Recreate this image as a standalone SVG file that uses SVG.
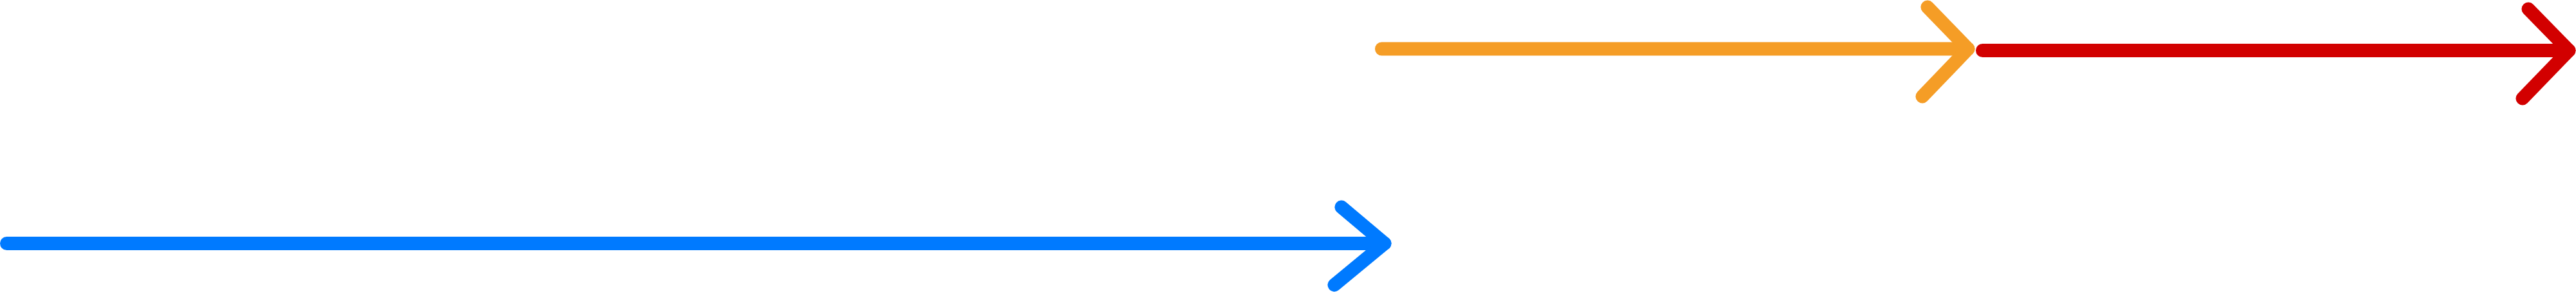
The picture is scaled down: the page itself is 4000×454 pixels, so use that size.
<svg xmlns="http://www.w3.org/2000/svg" width="4000" height="454" viewBox="0 0 4000 454">
<style>
.c{fill:none;stroke-width:21;stroke-linecap:round;stroke-linejoin:round}
.o{stroke:#F59D26}
.r{stroke:#D20000}
.b{stroke:#007AFF}
</style>
<rect width="4000" height="454" fill="#FFFFFF"/>
<g id="connectors">
<g id="orange-arrow">
<path class="c o" d="M2145.5 76 L3056 76"/>
<path class="c o" d="M2993 11 L3056 76 L2985 150"/>
</g>
<g id="red-arrow">
<path class="c r" d="M3078.5 78.5 L3989 78.5"/>
<path class="c r" d="M3926 14 L3989 78.5 L3917 153"/>
</g>
<g id="blue-arrow">
<path class="c b" d="M10.5 378.5 L2150 378.5"/>
<path class="c b" d="M2083 322 L2150 378.5 L2072 443"/>
</g>
</g>
</svg>
